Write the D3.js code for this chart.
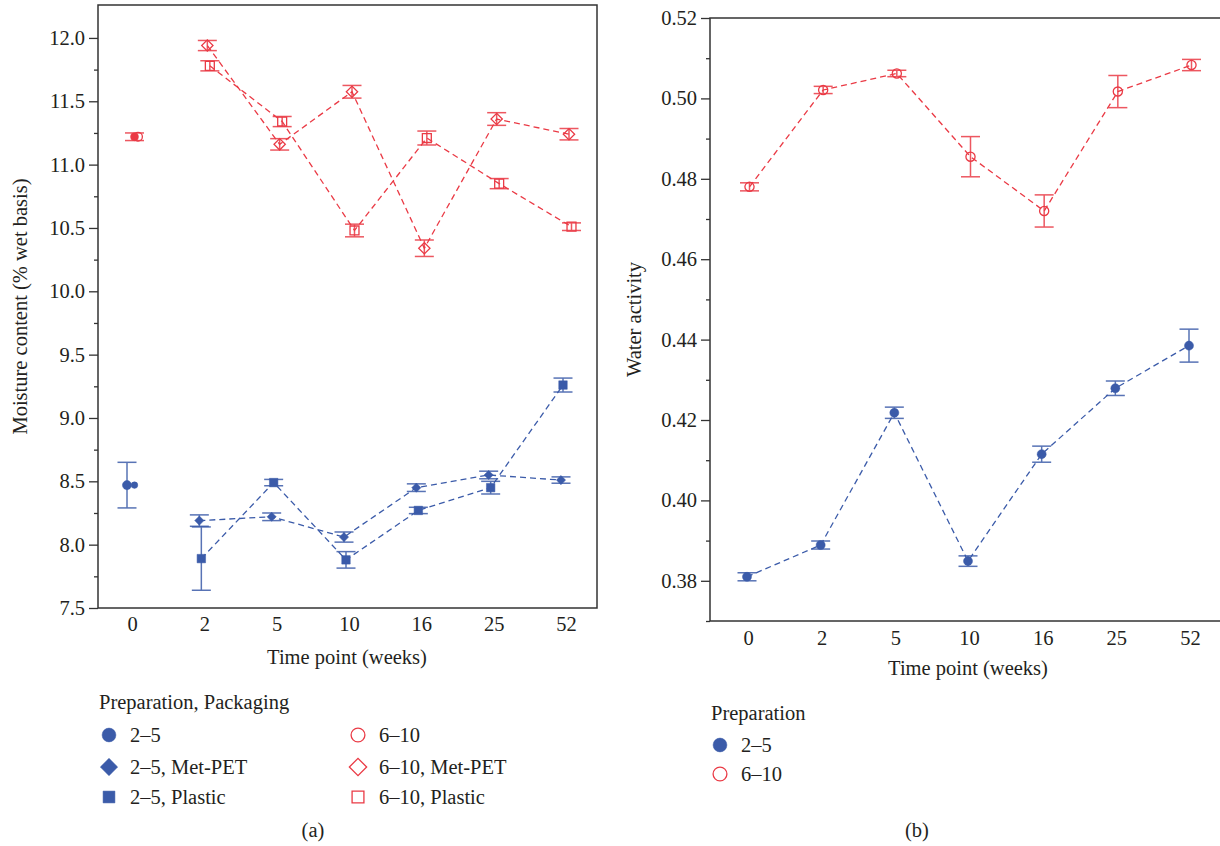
<!DOCTYPE html>
<html>
<head>
<meta charset="utf-8">
<script src="https://cdn.jsdelivr.net/npm/d3@7"></script>
<style>
  body { margin: 0; background: #fff; }
  text { font-family: "Liberation Serif", "DejaVu Serif", serif; fill: #231f20; }
</style>
</head>
<body>
<div id="chart"></div>
<script>
// ---- data ----
var weeks = ["0", "2", "5", "10", "16", "25", "52"];
var laterWeeks = ["2", "5", "10", "16", "25", "52"];
var startWeek = ["0"];

// (a) moisture content, % wet basis
var mc25Start = [8.47];
var mc25StartErr = [0.18];
var mc610Start = [11.22];
var mc610StartErr = [0.03];
var mc25Met = [8.19, 8.22, 8.06, 8.45, 8.55, 8.51];
var mc25MetErr = [0.045, 0.03, 0.04, 0.03, 0.03, 0.025];
var mc25Plastic = [7.89, 8.49, 7.88, 8.27, 8.45, 9.26];
var mc25PlasticErr = [0.25, 0.025, 0.065, 0.025, 0.05, 0.055];
var mc610Met = [11.94, 11.16, 11.575, 10.34, 11.36, 11.24];
var mc610MetErr = [0.04, 0.045, 0.05, 0.065, 0.05, 0.045];
var mc610Plastic = [11.78, 11.34, 10.48, 11.21, 10.85, 10.51];
var mc610PlasticErr = [0.04, 0.04, 0.05, 0.055, 0.04, 0.03];

// (b) water activity
var aw25 = [0.3810, 0.3889, 0.4218, 0.3849, 0.4115, 0.4279, 0.4385];
var aw25Err = [0.001, 0.001, 0.0014, 0.0013, 0.002, 0.0018, 0.0041];
var aw610 = [0.4780, 0.5021, 0.5062, 0.4855, 0.4720, 0.5017, 0.5083];
var aw610Err = [0.001, 0.0009, 0.0008, 0.005, 0.004, 0.004, 0.0014];

var ticksA = [7.5, 8.0, 8.5, 9.0, 9.5, 10.0, 10.5, 11.0, 11.5, 12.0];
var ticksB = [0.38, 0.40, 0.42, 0.44, 0.46, 0.48, 0.50, 0.52];

var blue = "#3b5ba9", red = "#ea3a45";

var svg = d3.select("#chart")
  .append("svg")
    .attr("width", 1220)
    .attr("height", 846);

function symbolPath(shape, size) {
  if (shape == "circle") return d3.symbol(d3.symbolCircle, size)();
  return d3.symbol(d3.symbolSquare, size)();
}

function drawMarker(g, shape, size, color, filled, x, y) {
  g.append("path")
    .attr("d", symbolPath(shape, size))
    .attr("transform", "translate(" + x + "," + y + ")" + (shape == "diamond" ? "rotate(45)" : ""))
    .attr("fill", filled ? color : "none")
    .attr("stroke", color)
    .attr("stroke-width", filled ? 0.5 : 1.3);
}

function drawSeries(g, x, y, s) {
  var pts = s.weeks.map(function(w, i) { return {w: w, v: s.vals[i], e: s.err[i]}; });
  if (s.line) {
    g.append("path")
      .datum(pts)
      .attr("fill", "none")
      .attr("stroke", s.color)
      .attr("stroke-width", 1.3)
      .attr("stroke-dasharray", "6,4")
      .attr("d", d3.line()
        .x(function(d) { return x(d.w) + s.dx; })
        .y(function(d) { return y(d.v); }));
  }
  var eb = g.append("g").attr("stroke", s.color).attr("stroke-width", 1.5).attr("opacity", 0.85);
  pts.forEach(function(d) {
    var cx = x(d.w) + s.dx;
    eb.append("line").attr("x1", cx).attr("x2", cx).attr("y1", y(d.v - d.e)).attr("y2", y(d.v + d.e));
    eb.append("line").attr("x1", cx - 9.5).attr("x2", cx + 9.5).attr("y1", y(d.v - d.e)).attr("y2", y(d.v - d.e));
    eb.append("line").attr("x1", cx - 9.5).attr("x2", cx + 9.5).attr("y1", y(d.v + d.e)).attr("y2", y(d.v + d.e));
  });
  pts.forEach(function(d) {
    drawMarker(g, s.shape, s.size, s.color, s.filled, x(d.w) + s.dx, y(d.v));
    if (s.extra) drawMarker(g, "circle", s.extra.size, s.color, s.extra.filled, x(d.w) + s.extra.dx, y(d.v));
  });
}

function yAxis(g, y, left, major, minor, fmt) {
  var a = g.append("g")
    .attr("transform", "translate(" + left + ",0)")
    .call(d3.axisLeft(y).tickValues(major).tickSize(9).tickPadding(4).tickFormat(d3.format(fmt)));
  a.select(".domain").remove();
  a.selectAll("text").style("font-size", "20.5px").attr("fill", "#231f20");
  a.selectAll("line").attr("stroke", "#333").attr("stroke-width", 1.3);
  var m = g.append("g")
    .attr("transform", "translate(" + left + ",0)")
    .call(d3.axisLeft(y).tickValues(minor).tickSize(4).tickFormat(""));
  m.select(".domain").remove();
  m.selectAll("line").attr("stroke", "#333").attr("stroke-width", 1.3);
}

function xAxis(g, x, bottom, pad) {
  var a = g.append("g")
    .attr("transform", "translate(0," + bottom + ")")
    .call(d3.axisBottom(x).tickSize(0).tickPadding(pad));
  a.select(".domain").remove();
  a.selectAll("text").style("font-size", "20.5px").attr("fill", "#231f20");
}

function legendRow(g, x, y, shape, size, color, filled, label) {
  drawMarker(g, shape, size, color, filled, x, y - 7);
  g.append("text").attr("x", x + 21).attr("y", y).style("font-size", "20.5px").text(label);
}

// ---------------- panel (a) ----------------
var xA = d3.scalePoint().domain(weeks).range([132, 566]);
var yA = d3.scaleLinear().domain([7.5, 12.26]).range([608, 5]);
var gA = svg.append("g");

yAxis(gA, yA, 98, ticksA, d3.range(7.75, 12.0, 0.5), ".1f");
xAxis(gA, xA, 608, 8);
gA.append("rect")
  .attr("x", 98).attr("y", 5).attr("width", 499).attr("height", 603)
  .attr("fill", "none").attr("stroke", "#333").attr("stroke-width", 1.5);

var seriesA = [
  {weeks: laterWeeks, vals: mc25Met, err: mc25MetErr, color: blue, shape: "diamond", size: 42, filled: true, dx: -5, line: true},
  {weeks: laterWeeks, vals: mc25Plastic, err: mc25PlasticErr, color: blue, shape: "square", size: 72, filled: true, dx: -3, line: true},
  {weeks: laterWeeks, vals: mc610Met, err: mc610MetErr, color: red, shape: "diamond", size: 64, filled: false, dx: 3, line: true},
  {weeks: laterWeeks, vals: mc610Plastic, err: mc610PlasticErr, color: red, shape: "square", size: 80, filled: false, dx: 5.5, line: true},
  {weeks: startWeek, vals: mc25Start, err: mc25StartErr, color: blue, shape: "circle", size: 66, filled: true, dx: -5, line: false,
    extra: {size: 34, filled: true, dx: 2.5}},
  {weeks: startWeek, vals: mc610Start, err: mc610StartErr, color: red, shape: "circle", size: 50, filled: true, dx: 2.5, line: false,
    extra: {size: 60, filled: false, dx: 6}}
];
seriesA.forEach(function(s) { drawSeries(gA, xA, yA, s); });

gA.append("text")
  .attr("transform", "translate(27," + ((5 + 608) / 2) + ")rotate(-90)")
  .attr("text-anchor", "middle")
  .style("font-size", "20.5px")
  .text("Moisture content (% wet basis)");
gA.append("text")
  .attr("x", 347).attr("y", 664)
  .attr("text-anchor", "middle")
  .style("font-size", "20.5px")
  .text("Time point (weeks)");

gA.append("text").attr("x", 99).attr("y", 709).style("font-size", "20.5px").text("Preparation, Packaging");
legendRow(gA, 109, 742, "circle", 150, blue, true, "2–5");
legendRow(gA, 109, 774, "diamond", 150, blue, true, "2–5, Met-PET");
legendRow(gA, 109, 804, "square", 140, blue, true, "2–5, Plastic");
legendRow(gA, 358, 742, "circle", 150, red, false, "6–10");
legendRow(gA, 358, 774, "diamond", 150, red, false, "6–10, Met-PET");
legendRow(gA, 358, 804, "square", 140, red, false, "6–10, Plastic");
gA.append("text").attr("x", 313).attr("y", 837).attr("text-anchor", "middle").style("font-size", "20.5px").text("(a)");

// ---------------- panel (b) ----------------
var xB = d3.scalePoint().domain(weeks).range([748, 1190]);
var yB = d3.scaleLinear().domain([0.37, 0.52]).range([621, 18]);
var gB = svg.append("g");

yAxis(gB, yB, 710, ticksB, d3.range(0.37, 0.515, 0.02), ".2f");
xAxis(gB, xB, 621, 9);
gB.append("rect")
  .attr("x", 710).attr("y", 18).attr("width", 530).attr("height", 603)
  .attr("fill", "none").attr("stroke", "#333").attr("stroke-width", 1.5);

var seriesB = [
  {weeks: weeks, vals: aw25, err: aw25Err, color: blue, shape: "circle", size: 64, filled: true, dx: -1, line: true},
  {weeks: weeks, vals: aw610, err: aw610Err, color: red, shape: "circle", size: 66, filled: false, dx: 1.5, line: true}
];
seriesB.forEach(function(s) { drawSeries(gB, xB, yB, s); });

gB.append("text")
  .attr("transform", "translate(641," + ((18 + 621) / 2) + ")rotate(-90)")
  .attr("text-anchor", "middle")
  .style("font-size", "20.5px")
  .text("Water activity");
gB.append("text")
  .attr("x", 968).attr("y", 675)
  .attr("text-anchor", "middle")
  .style("font-size", "20.5px")
  .text("Time point (weeks)");

gB.append("text").attr("x", 711).attr("y", 720).style("font-size", "20.5px").text("Preparation");
legendRow(gB, 720, 752, "circle", 150, blue, true, "2–5");
legendRow(gB, 720, 781, "circle", 150, red, false, "6–10");
gB.append("text").attr("x", 917).attr("y", 837).attr("text-anchor", "middle").style("font-size", "20.5px").text("(b)");
</script>
</body>
</html>
